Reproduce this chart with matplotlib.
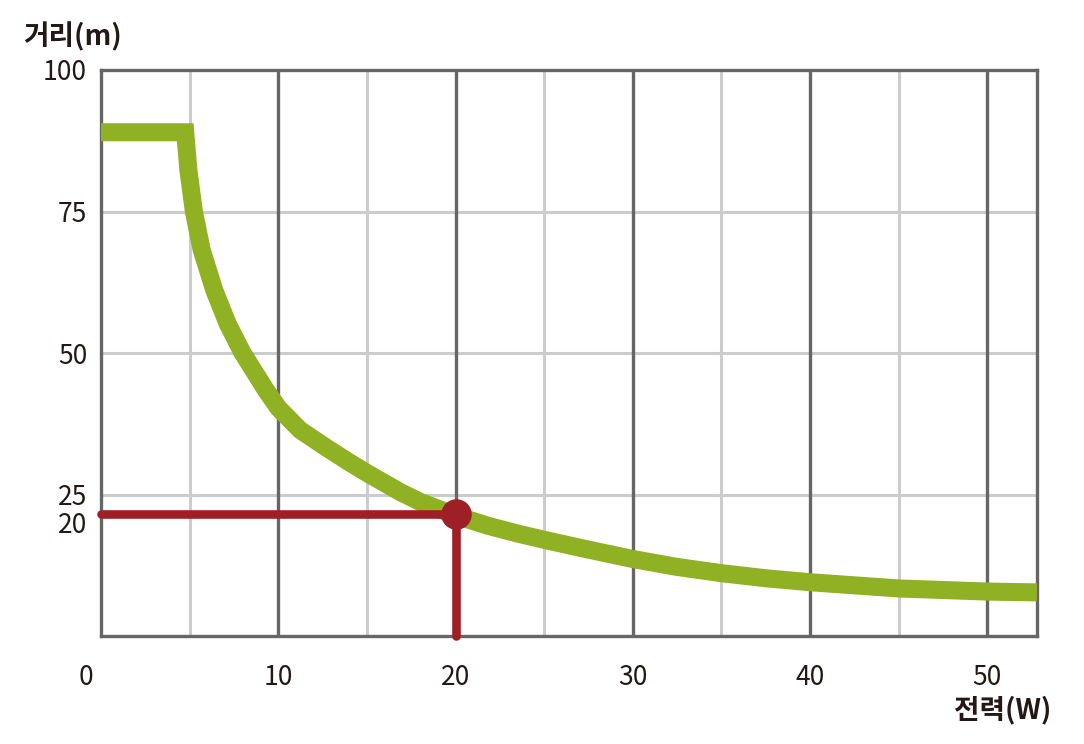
import matplotlib
matplotlib.use('Agg')
import matplotlib.pyplot as plt
from matplotlib.transforms import ScaledTranslation

plt.rcParams['font.family'] = ['Noto Sans CJK KR', 'DejaVu Sans']

# curve: power (W) vs distance (m)
power_w = [0, 4.75, 4.93, 5.24, 5.68, 6.39, 7.14, 7.97, 9.29, 10.0,
           11.23, 12.75, 14.0, 15, 16.9, 18, 20, 21.8, 23.5, 25, 27, 30,
           32.5, 35, 37.5, 40, 45, 50, 52.8]
distance_m = [89, 89, 82.3, 75, 68.2, 61.1, 55.2, 50.1, 43.5, 40.3,
              36.4, 33.2, 30.7, 28.8, 25.4, 23.7, 21.3, 19.5, 18.1, 17.0,
              15.6, 13.6, 12.2, 11.1, 10.2, 9.5, 8.4, 7.85, 7.7]

# highlighted operating point
point_w = 20
point_m = 21.5

x_ticks = [0, 10, 20, 30, 40, 50]
x_minor = [5, 15, 25, 35, 45]
y_ticks = [20, 25, 50, 75, 100]
y_grid = [25, 50, 75]

green = '#8fb123'
red = '#9e1f26'
dark = '#666666'
light = '#cccccc'
txt = '#231815'

fig = plt.figure(figsize=(10.84, 7.44), dpi=100)
ax = fig.add_axes([101 / 1084, 108 / 744, 936 / 1084, 566 / 744])
ax.set_xlim(0, 52.8)
ax.set_ylim(0, 100)

for x in x_minor:
    ax.axvline(x, color=light, lw=2.2, zorder=1)
for y in y_grid:
    ax.axhline(y, color=light, lw=2.2, zorder=1)
for x in x_ticks[1:]:
    ax.axvline(x, color=dark, lw=2.4, zorder=2)

for s in ax.spines.values():
    s.set_color(dark)
    s.set_linewidth(2.4)
    s.set_zorder(2)

ax.plot(power_w, distance_m, color=green, lw=13,
        solid_joinstyle='miter', solid_capstyle='butt', zorder=3)

ax.plot([0, point_w], [point_m, point_m], color=red, lw=6.2,
        solid_capstyle='round', zorder=4, clip_on=False)
ax.plot([point_w, point_w], [point_m, 0], color=red, lw=6.2,
        solid_capstyle='round', zorder=4, clip_on=False)
ax.plot([point_w], [point_m], 'o', color=red, markersize=21, zorder=5,
        clip_on=False)

ax.set_xticks(x_ticks)
ax.set_yticks(y_ticks)
ax.tick_params(length=0, labelsize=19, labelcolor=txt)
ax.tick_params(axis='x', pad=20)
ax.tick_params(axis='y', pad=10)

lbl0 = ax.get_xticklabels()[0]
lbl0.set_transform(lbl0.get_transform() +
                   ScaledTranslation(-15 / 100, 0, fig.dpi_scale_trans))

fig.text(73 / 1084, 1 - 37 / 744, '거리(m)', fontsize=20, fontweight='bold',
         color=txt, ha='center', va='center')
fig.text(1003 / 1084, 1 - 710 / 744, '전력(W)', fontsize=20, fontweight='bold',
         color=txt, ha='center', va='center')

fig.savefig('out.png', dpi=100)
